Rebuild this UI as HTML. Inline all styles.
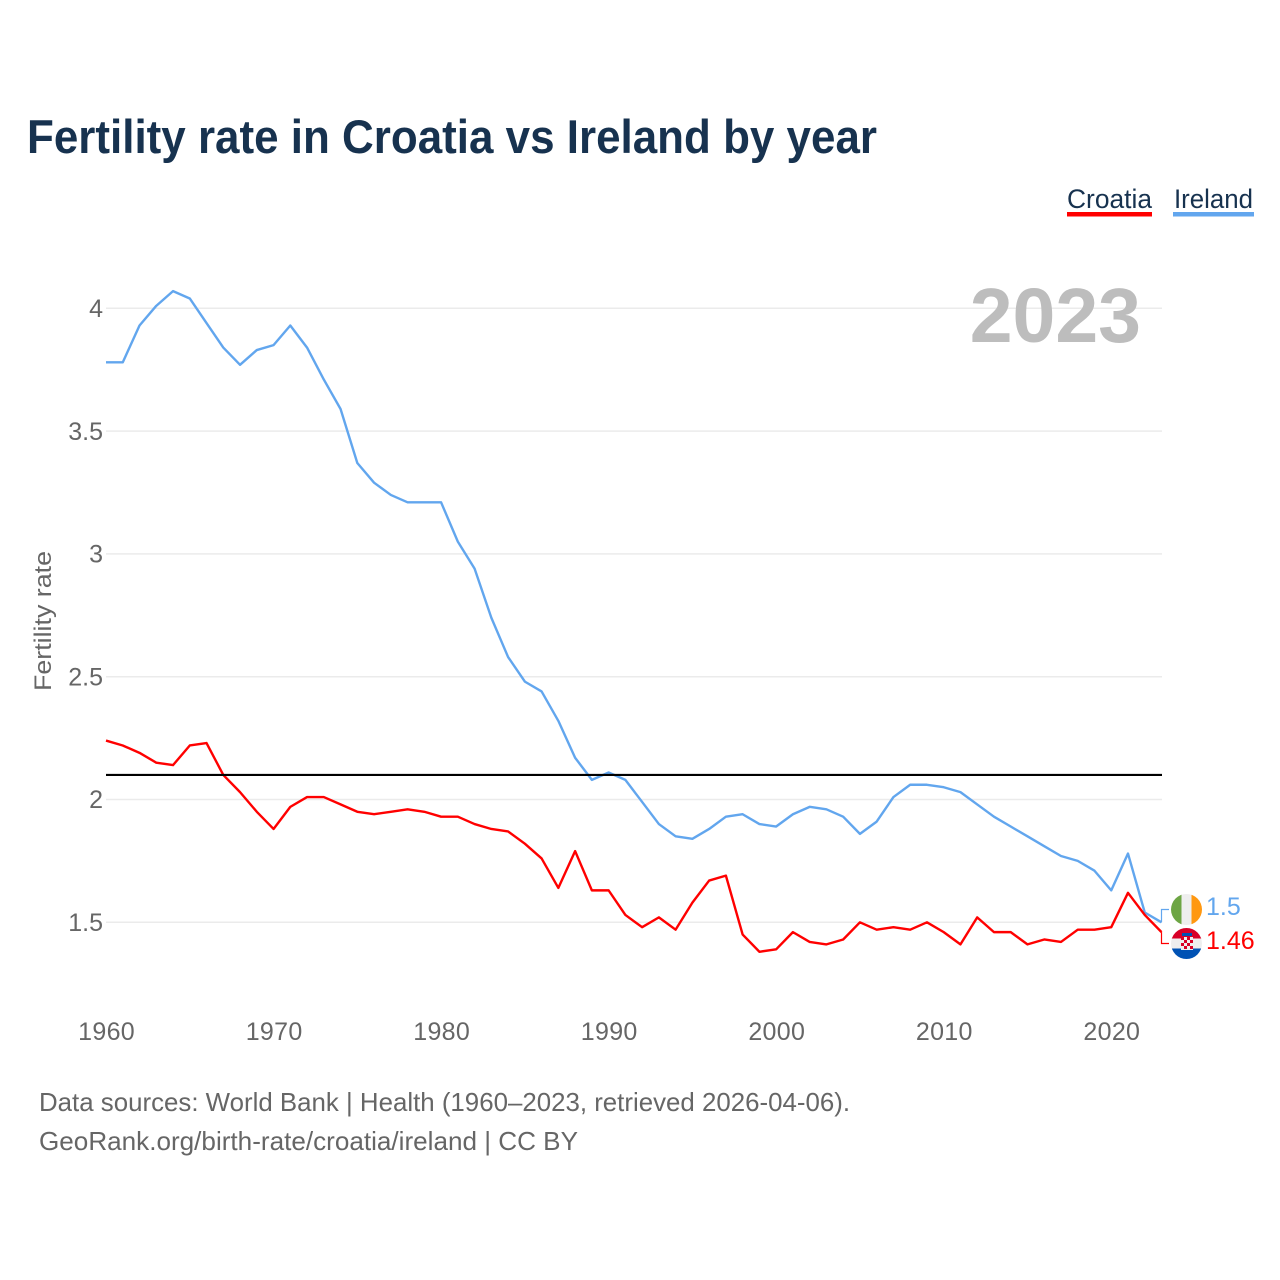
<!DOCTYPE html>
<html lang="en">
<head>
<meta charset="utf-8">
<title>Fertility rate in Croatia vs Ireland by year</title>
<style>
html,body{margin:0;padding:0;background:#fff;width:1280px;height:1280px;overflow:hidden}
svg{display:block}
text{font-family:"Liberation Sans",sans-serif}
</style>
</head>
<body>
<svg id="chart" xmlns="http://www.w3.org/2000/svg" width="1280" height="1280" viewBox="0 0 1280 1280">
  <defs>
    <clipPath id="flag-ie-clip"><circle cx="1186.5" cy="909.5" r="15.5"/></clipPath>
    <clipPath id="flag-hr-clip"><circle cx="1186.5" cy="943.5" r="15.5"/></clipPath>
  </defs>
  <text x="27" y="153" font-size="47" font-weight="700" fill="#17324f" textLength="850" lengthAdjust="spacingAndGlyphs">Fertility rate in Croatia vs Ireland by year</text>

  <g>
    <g>
      <text x="1067" y="208" font-size="27" fill="#17324f" textLength="85" lengthAdjust="spacingAndGlyphs">Croatia</text>
      <rect x="1067" y="212" width="85" height="4.5" fill="#ff0000"/>
    </g>
    <g>
      <text x="1174" y="208" font-size="27" fill="#17324f" textLength="79" lengthAdjust="spacingAndGlyphs">Ireland</text>
      <rect x="1173" y="212" width="81" height="4.5" fill="#62a6ee"/>
    </g>
  </g>

  <g id="grid"></g>
  <text x="1141" y="342" text-anchor="end" font-size="77" font-weight="700" fill="#bdbdbd">2023</text>
  <g id="y-ticks"></g>
  <g id="x-ticks"></g>
  <text transform="translate(51,621) rotate(-90)" text-anchor="middle" font-size="24" fill="#666666" textLength="140" lengthAdjust="spacingAndGlyphs">Fertility rate</text>

  <g id="series"></g>

  <g clip-path="url(#flag-ie-clip)">
    <rect x="1171" y="894" width="11" height="32" fill="#6da544"/>
    <rect x="1181.5" y="894" width="10.5" height="32" fill="#eeeeee"/>
    <rect x="1191.5" y="894" width="11" height="32" fill="#ff9811"/>
  </g>
  <g clip-path="url(#flag-hr-clip)">
    <rect x="1171" y="928" width="32" height="11" fill="#d80027"/>
    <rect x="1171" y="938.5" width="32" height="10.5" fill="#eeeeee"/>
    <rect x="1171" y="948.5" width="32" height="11" fill="#0052b4"/>
    <rect x="1181" y="937" width="12" height="13" fill="#eeeeee"/>
    <rect x="1181" y="937" width="3" height="3" fill="#d80027"/>
    <rect x="1187" y="937" width="3" height="3" fill="#d80027"/>
    <rect x="1184" y="940" width="3" height="3" fill="#d80027"/>
    <rect x="1190" y="940" width="3" height="3" fill="#d80027"/>
    <rect x="1181" y="943" width="3" height="3" fill="#d80027"/>
    <rect x="1187" y="943" width="3" height="3" fill="#d80027"/>
    <rect x="1184" y="946" width="3" height="3" fill="#d80027"/>
    <rect x="1190" y="946" width="3" height="3" fill="#d80027"/>
    <rect x="1182" y="933" width="10" height="3" fill="#0052b4"/>
  </g>

  <text x="39" y="1111" font-size="26" fill="#666666" textLength="811" lengthAdjust="spacingAndGlyphs">Data sources: World Bank | Health (1960–2023, retrieved 2026-04-06).</text>
  <text x="39" y="1150" font-size="26" fill="#666666" textLength="539" lengthAdjust="spacingAndGlyphs">GeoRank.org/birth-rate/croatia/ireland | CC BY</text>
</svg>
<script>
const startYear = 1960;
const irelandValues = [3.78,3.78,3.93,4.01,4.07,4.04,3.94,3.84,3.77,3.83,
  3.85,3.93,3.84,3.71,3.59,3.37,3.29,3.24,3.21,3.21,
  3.21,3.05,2.94,2.74,2.58,2.48,2.44,2.32,2.17,2.08,
  2.11,2.08,1.99,1.90,1.85,1.84,1.88,1.93,1.94,1.90,
  1.89,1.94,1.97,1.96,1.93,1.86,1.91,2.01,2.06,2.06,
  2.05,2.03,1.98,1.93,1.89,1.85,1.81,1.77,1.75,1.71,
  1.63,1.78,1.54,1.50];
const croatiaValues = [2.24,2.22,2.19,2.15,2.14,2.22,2.23,2.10,2.03,1.95,
  1.88,1.97,2.01,2.01,1.98,1.95,1.94,1.95,1.96,1.95,
  1.93,1.93,1.90,1.88,1.87,1.82,1.76,1.64,1.79,1.63,
  1.63,1.53,1.48,1.52,1.47,1.58,1.67,1.69,1.45,1.38,
  1.39,1.46,1.42,1.41,1.43,1.50,1.47,1.48,1.47,1.50,
  1.46,1.41,1.52,1.46,1.46,1.41,1.43,1.42,1.47,1.47,
  1.48,1.62,1.53,1.46];
const yTickValues = [1.5,2,2.5,3,3.5,4];
const yTickLabels = ["1.5","2","2.5","3","3.5","4"];
const xTickValues = [1960,1970,1980,1990,2000,2010,2020];
const replacementLevel = [2.1];

const NS = "http://www.w3.org/2000/svg";
function xScale(year){ return 106 + (year - 1960) * (1161.5 - 106) / 63; }
function yScale(v){ return 922.3 - (v - 1.5) * 245.6; }
function make(tag, attrs, parent, text){
  const el = document.createElementNS(NS, tag);
  for (const k in attrs) el.setAttribute(k, attrs[k]);
  if (text !== undefined) el.textContent = text;
  parent.appendChild(el);
  return el;
}
const grid = document.getElementById("grid");
const yTicks = document.getElementById("y-ticks");
const xTicks = document.getElementById("x-ticks");
const series = document.getElementById("series");

yTickValues.forEach(function(v, i){
  const line = make("line", {x1:106, x2:1162, y1:yScale(v), y2:yScale(v), stroke:"#ebebeb", "stroke-width":1.5}, grid);
  
  
  const label = make("text", {x:103, y:yScale(v)+8.7, "text-anchor":"end", "font-size":25, fill:"#666666"}, yTicks, yTickLabels[i]);
  
  
});
xTickValues.forEach(function(yr){
  const label = make("text", {x:xScale(yr)+0.6, y:1040, "text-anchor":"middle", "font-size":25, "letter-spacing":0.3, fill:"#666666"}, xTicks, String(yr));
  
  
});

function pathFor(values){
  return values.map(function(v, i){ return (i ? "L" : "M") + xScale(startYear + i).toFixed(2) + " " + yScale(v).toFixed(2); }).join(" ");
}
const irelandLine = make("path", {d:pathFor(irelandValues), fill:"none", stroke:"#62a6ee", "stroke-width":2.4, "stroke-linejoin":"round"}, series);


const croatiaLine = make("path", {d:pathFor(croatiaValues), fill:"none", stroke:"#ff0000", "stroke-width":2.4, "stroke-linejoin":"round"}, series);



const refLine = make("line", {x1:106, x2:1162, y1:yScale(replacementLevel[0]), y2:yScale(replacementLevel[0]), stroke:"#000000", "stroke-width":2.2}, series);



const lastYear = startYear + irelandValues.length - 1;
const lastIreland = irelandValues[irelandValues.length - 1];
const lastCroatia = croatiaValues[croatiaValues.length - 1];
const connIreland = make("path", {d:"M"+xScale(lastYear)+" "+yScale(lastIreland)+" V909.5 H1169", fill:"none", stroke:"#62a6ee", "stroke-width":1.2}, series);


const connCroatia = make("path", {d:"M"+xScale(lastYear)+" "+yScale(lastCroatia)+" V943.5 H1169", fill:"none", stroke:"#ff0000", "stroke-width":1.2}, series);



const endIreland = make("text", {x:1206, y:915, "font-size":25, fill:"#62a6ee"}, series, String(lastIreland));


const endCroatia = make("text", {x:1206, y:949, "font-size":25, fill:"#ff0000"}, series, String(lastCroatia));


</script>
</body>
</html>
